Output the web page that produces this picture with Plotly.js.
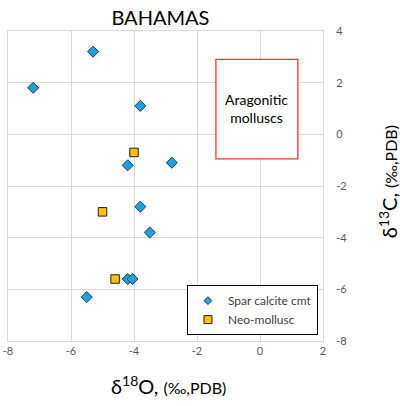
<!DOCTYPE html>
<html>
<head>
<meta charset="utf-8">
<script src="https://cdn.plot.ly/plotly-3.0.1.min.js"></script>
<style>html,body{margin:0;padding:0;background:#fff;}#chart{width:400px;height:406px;}</style>
</head>
<body>
<div id="chart"></div>
<script>
// Spar calcite cement (diamonds)
const sparO = [-5.3, -7.2, -3.8, -4.2, -2.8, -3.8, -3.5, -4.2, -4.05, -5.5];
const sparC = [3.2, 1.8, 1.1, -1.2, -1.1, -2.8, -3.8, -5.6, -5.6, -6.3];
// Neo-mollusc (squares)
const neoO = [-4.0, -5.0, -4.6];
const neoC = [-0.7, -3.0, -5.6];
const seriesNames = ["Spar calcite cmt", "Neo-mollusc"];
const xTicks = [-8, -6, -4, -2, 0, 2];
const yTicks = [-8, -6, -4, -2, 0, 2, 4];
// Aragonitic mollusc field box
const boxO = [-1.4, 1.2];
const boxC = [-0.95, 2.9];

const FONT = "Lato, 'Open Sans', sans-serif";
const sparStyle = {symbol: "diamond", color: "#1ba1e2", line: {color: "#1f3a4d", width: 1}};
const neoStyle = {symbol: "square", color: "#ffc000", line: {color: "#222", width: 1}};

const traces = [
  {x: sparO, y: sparC, name: seriesNames[0], mode: "markers", type: "scatter", showlegend: false,
   marker: Object.assign({size: 8.5}, sparStyle)},
  {x: neoO, y: neoC, name: seriesNames[1], mode: "markers", type: "scatter", showlegend: false,
   marker: Object.assign({size: 8.5}, neoStyle)},
  // legend entries (smaller symbols, as in the reference legend)
  {x: [null], y: [null], name: seriesNames[0], mode: "markers", type: "scatter",
   marker: Object.assign({size: 6}, sparStyle)},
  {x: [null], y: [null], name: seriesNames[1], mode: "markers", type: "scatter",
   marker: Object.assign({size: 8}, neoStyle)}
];

const layout = {
  width: 400, height: 406,
  margin: {l: 8, r: 77, t: 31, b: 65},
  paper_bgcolor: "#fff", plot_bgcolor: "#fff",
  font: {family: FONT, color: "#595959", size: 11},
  title: {text: "BAHAMAS", font: {family: FONT, size: 20, color: "#000"},
          x: 0.401, xanchor: "center", y: 0.955, yanchor: "middle"},
  showlegend: true,
  legend: {x: 0.984, xanchor: "right", y: 0.019, yanchor: "bottom",
           bgcolor: "#fff", bordercolor: "#000", borderwidth: 1,
           font: {family: FONT, size: 12, color: "#404040"},
           itemwidth: 30, tracegroupgap: 0},
  xaxis: {range: [-8, 2], tickvals: xTicks, ticktext: xTicks.map(String),
          showgrid: true, gridcolor: "#d9d9d9", gridwidth: 1, zeroline: false,
          showline: true, linecolor: "#d9d9d9", mirror: true, ticks: "",
          tickfont: {family: FONT, size: 11, color: "#595959"}, fixedrange: true},
  yaxis: {range: [-8, 4], tickvals: yTicks, ticktext: yTicks.map(String), side: "right",
          showgrid: true, gridcolor: "#d9d9d9", gridwidth: 1, zeroline: false,
          showline: true, linecolor: "#d9d9d9", mirror: true, ticks: "", ticklabelstandoff: 10,
          tickfont: {family: FONT, size: 11, color: "#595959"}, fixedrange: true},
  shapes: [
    {type: "rect", xref: "x", yref: "y", x0: boxO[0], x1: boxO[1], y0: boxC[0], y1: boxC[1],
     line: {color: "#ff3333", width: 1.3}, fillcolor: "#fff", layer: "above"}
  ],
  annotations: [
    {xref: "x", yref: "y", x: (boxO[0] + boxO[1]) / 2, y: 1.0, text: "Aragonitic<br>molluscs",
     showarrow: false, font: {family: FONT, size: 14, color: "#000"}, align: "center"},
    {xref: "paper", yref: "paper", x: 0.51, y: -0.142, xanchor: "center", yanchor: "middle",
     text: "δ<sup>18</sup>O, <span style=\"font-size:16px\">(‰,PDB)</span>",
     showarrow: false, font: {family: FONT, size: 20, color: "#000"}},
    {xref: "paper", yref: "paper", x: 1.206, y: 0.515, xanchor: "center", yanchor: "middle",
     textangle: -90,
     text: "δ<sup>13</sup>C, <span style=\"font-size:16px\">(‰,PDB)</span>",
     showarrow: false, font: {family: FONT, size: 20, color: "#000"}}
  ]
};

Plotly.newPlot("chart", traces, layout, {staticPlot: true, displayModeBar: false});
</script>
</body>
</html>
